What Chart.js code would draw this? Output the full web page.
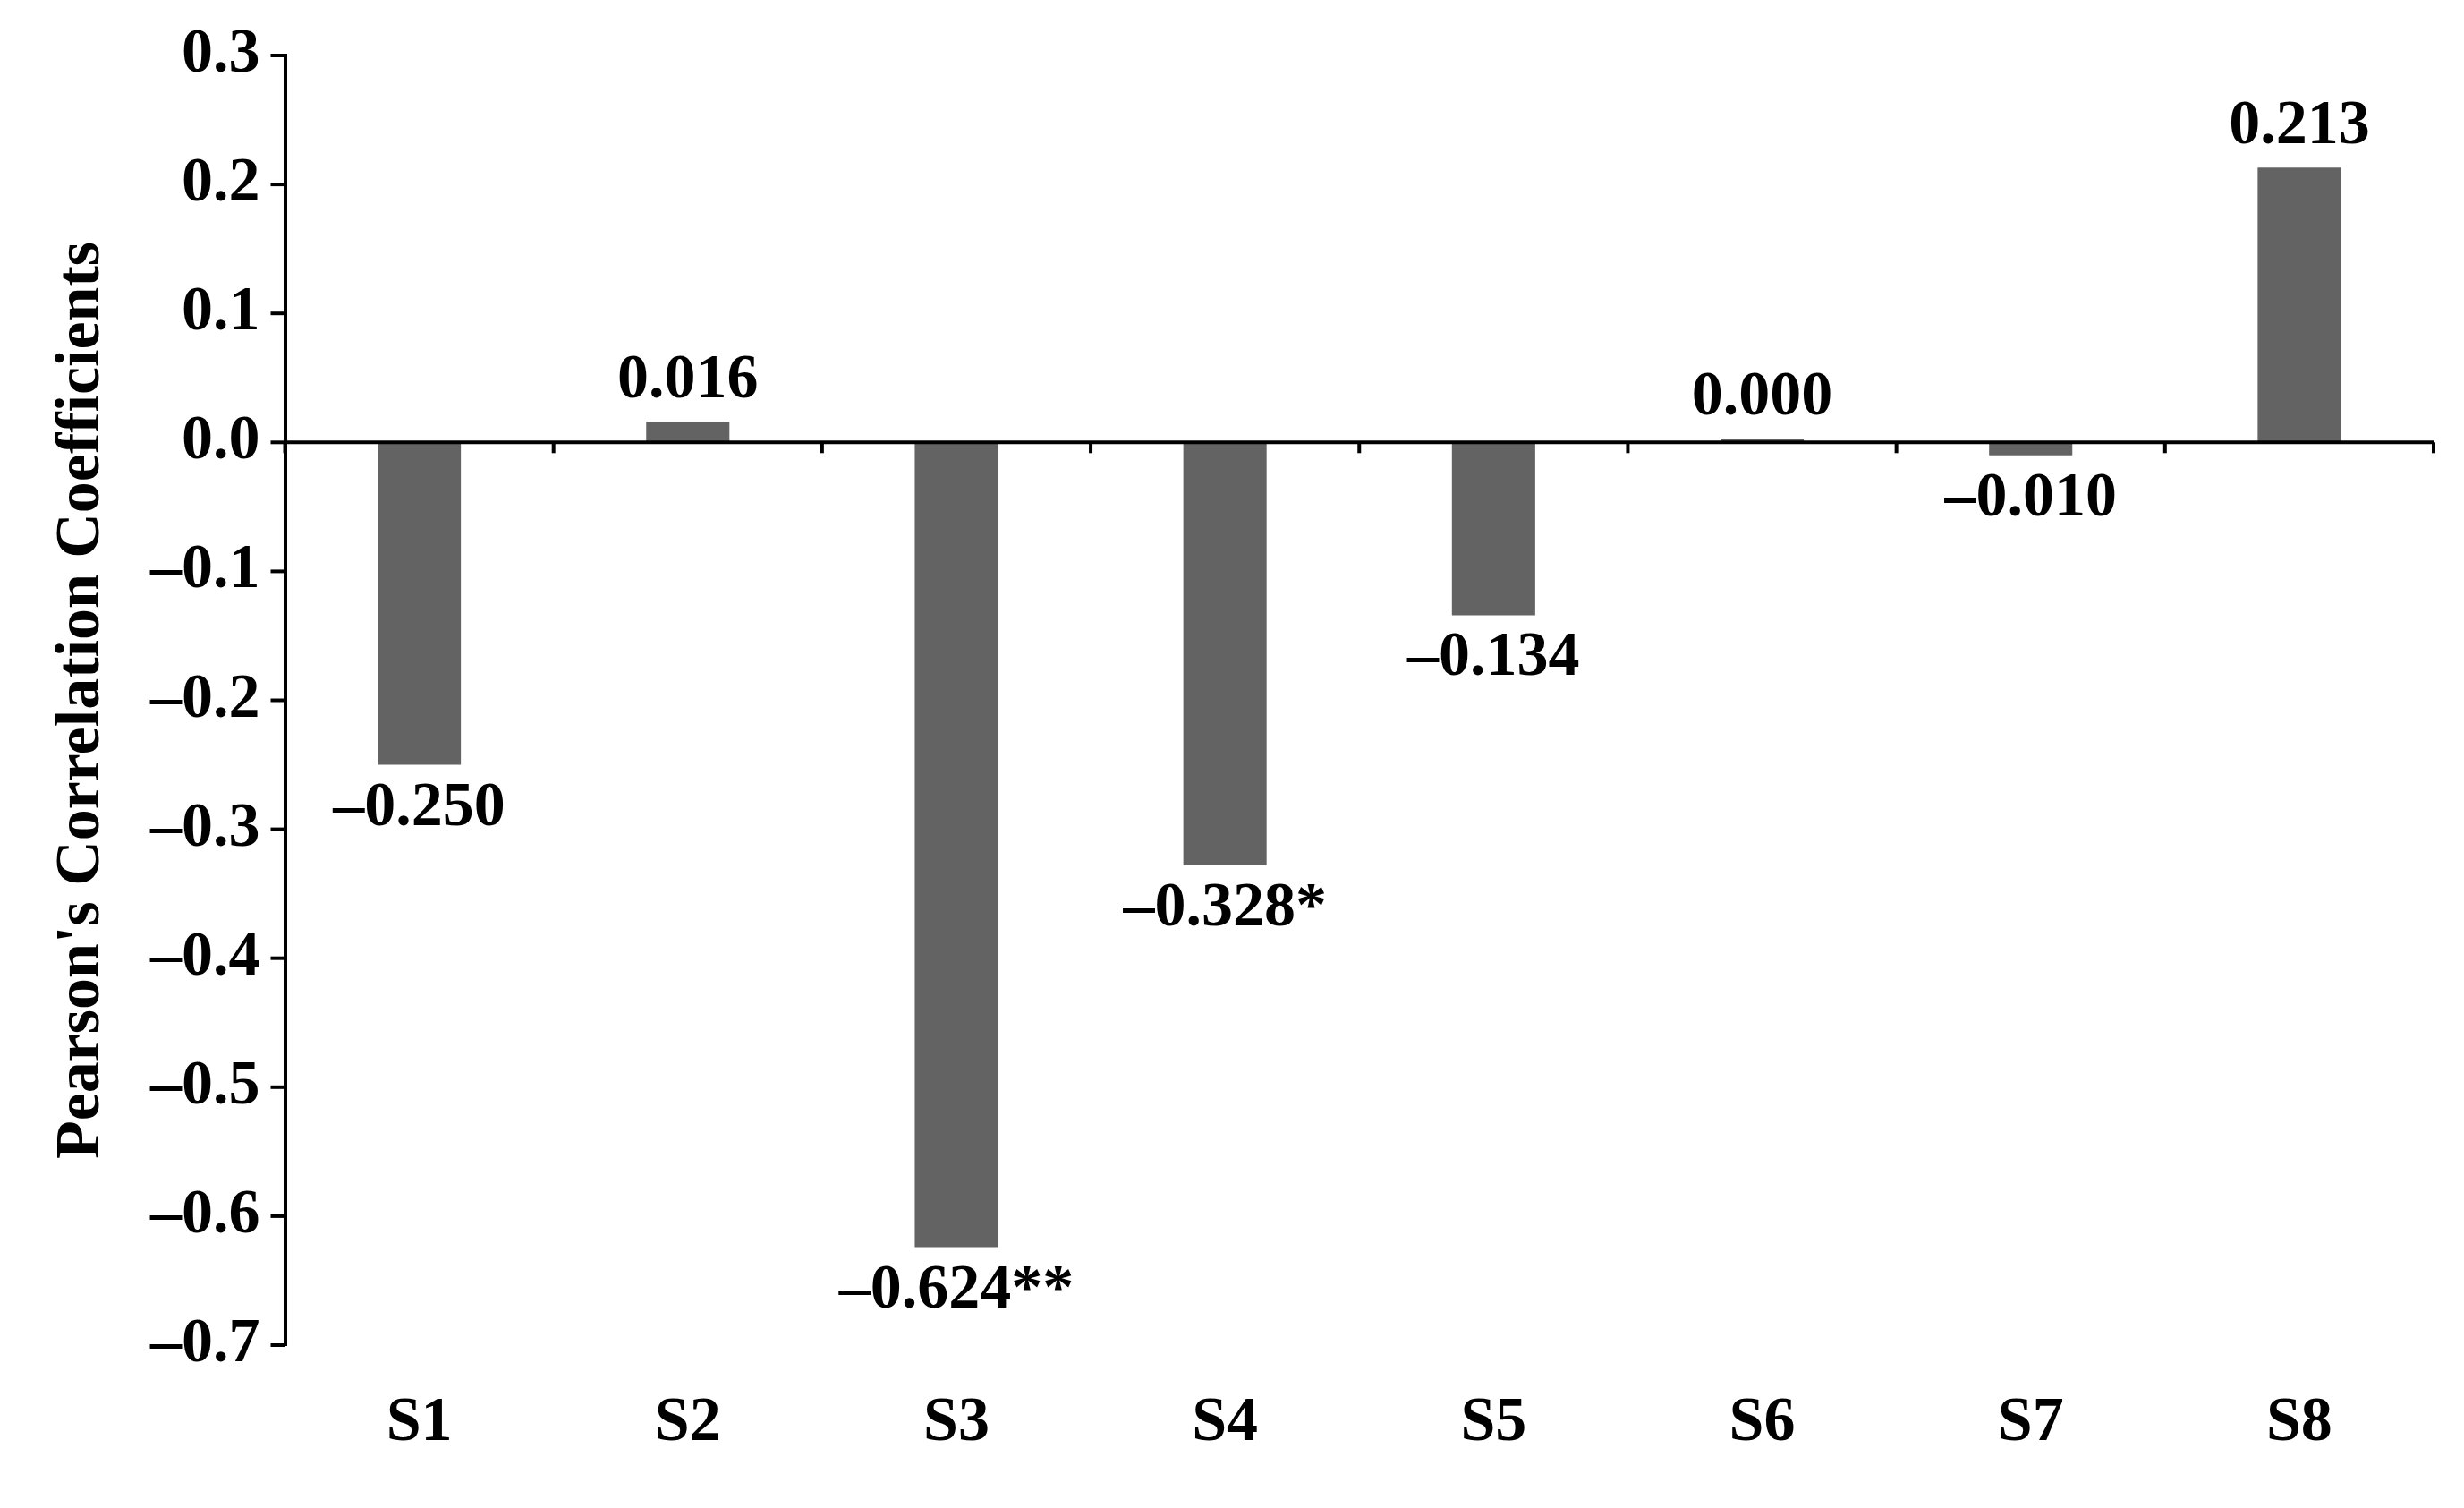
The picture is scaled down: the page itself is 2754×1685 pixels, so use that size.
<!DOCTYPE html>
<html><head><meta charset="utf-8">
<script src="https://cdn.jsdelivr.net/npm/chart.js@4"></script>
<style>html,body{margin:0;background:#fff}#w{width:2754px;height:1685px}</style>
</head><body><div id="w"><canvas id="c"></canvas></div>
<script>
const categories=["S1","S2","S3","S4","S5","S6","S7","S8"];
const values=[-0.250,0.016,-0.624,-0.328,-0.134,0.003,-0.010,0.213];
const valueLabels=["\u20130.250","0.016","\u20130.624**","\u20130.328*","\u20130.134","0.000","\u20130.010","0.213"];
const yTicks=[0.3,0.2,0.1,0.0,-0.1,-0.2,-0.3,-0.4,-0.5,-0.6,-0.7];
const F="'Liberation Serif','Times New Roman',serif";
const fmt=v=>(v<-1e-9?"\u2013":"")+Math.abs(v).toFixed(1);
const zeroAxis={id:'zeroAxis',afterDatasetsDraw(ch){
 const {ctx,scales:{x,y},chartArea:a}=ch;const y0=y.getPixelForValue(0);
 ctx.save();ctx.strokeStyle='#000';ctx.lineWidth=4;
 ctx.beginPath();ctx.moveTo(a.left,y0);ctx.lineTo(a.right,y0);ctx.stroke();
 const step=(x.getPixelForValue(1)-x.getPixelForValue(0));
 for(let i=0;i<=categories.length;i++){const px=x.getPixelForValue(0)-step/2+i*step;ctx.beginPath();ctx.moveTo(px,y0);ctx.lineTo(px,y0+12);ctx.stroke();}
 ctx.fillStyle='#000';ctx.font="bold 70px "+F;ctx.textAlign='center';
 const meta=ch.getDatasetMeta(0);
 meta.data.forEach((b,i)=>{const v=values[i];
  if(v>=0){ctx.textBaseline='bottom';ctx.fillText(valueLabels[i],b.x,b.y-10);}
  else{ctx.textBaseline='top';ctx.fillText(valueLabels[i],b.x,b.y+14);}});
 ctx.restore();}};
new Chart(document.getElementById('c'),{type:'bar',
 data:{labels:categories,datasets:[{data:values,backgroundColor:'#636363',barPercentage:0.31,categoryPercentage:1}]},
 options:{responsive:true,maintainAspectRatio:false,animation:false,
  layout:{padding:{top:38,right:34,bottom:14,left:36}},
  plugins:{legend:{display:false},tooltip:{enabled:false}},
  scales:{
   x:{grid:{display:false},border:{display:false},ticks:{color:'#000',font:{family:F,size:70,weight:'bold'},padding:38}},
   y:{min:-0.7,max:0.3,afterBuildTicks:s=>{s.ticks=yTicks.map(v=>({value:v}));},
    grid:{display:false,drawTicks:true},border:{display:true,color:'#000',width:4},
    ticks:{color:'#000',font:{family:F,size:70,weight:'bold'},callback:v=>fmt(v),padding:20},
    title:{display:true,text:"Pearson's Correlation Coefficients",color:'#000',font:{family:F,size:70,weight:'bold'},padding:14}}}},
 plugins:[zeroAxis,{id:'yt',afterDraw(ch){const {ctx,scales:{y}}=ch;ctx.save();ctx.strokeStyle='#000';ctx.lineWidth=4;
  yTicks.forEach(v=>{const py=y.getPixelForValue(v);ctx.beginPath();ctx.moveTo(y.right-16,py);ctx.lineTo(y.right,py);ctx.stroke();});ctx.restore();}}]
});
</script></body></html>
